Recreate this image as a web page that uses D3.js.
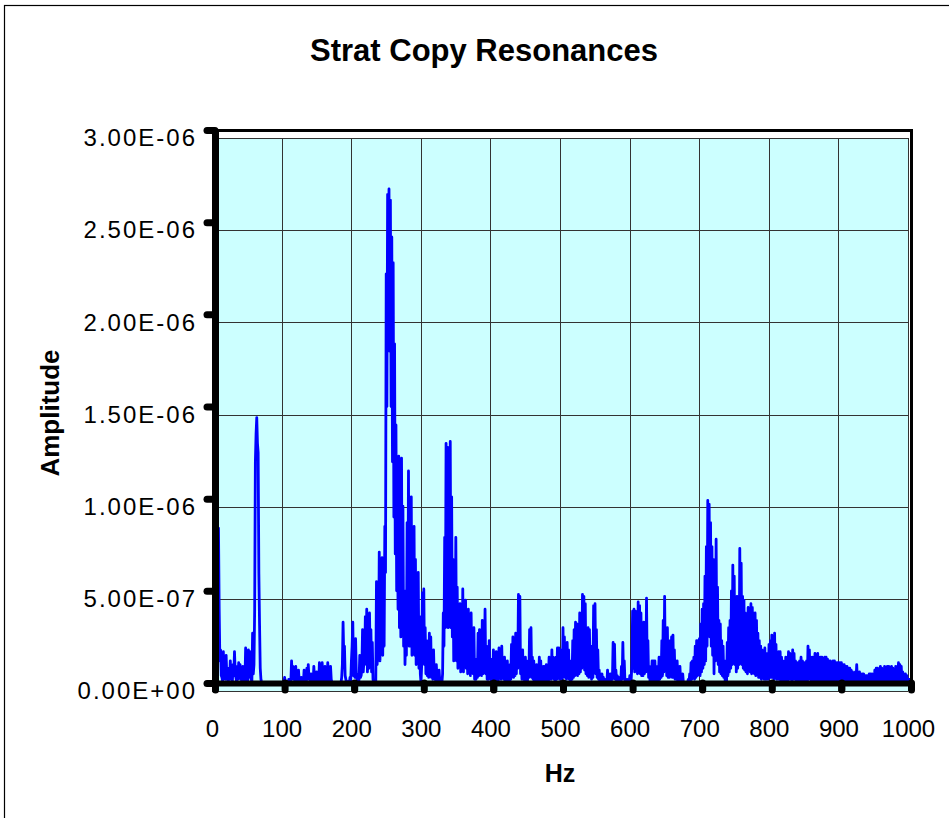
<!DOCTYPE html>
<html lang="en">
<head>
<meta charset="UTF-8">
<title>Strat Copy Resonances</title>
<script src="https://cdn.jsdelivr.net/npm/d3@7/dist/d3.min.js"></script>
<style>
    body { margin: 0; background: #fff; }
    svg text { font-family: "Liberation Sans", Arial, sans-serif; fill: #000; }
</style>
</head>
<body>
<div id="chart"></div>
<script>
// one value per Hz, amplitude in units of 1e-8
var hzStep = 1;
var amp = [
    20, 30, 10, 30, 60, 84, 40, 12, 18, 4, 3, 1, 17, 5, 6, 2, 15, 3, 2, 1,
    8, 2, 12, 3, 2, 1, 10, 4, 17, 6, 3, 1, 9, 2, 11, 3, 10, 2, 2, 0,
    9, 2, 3, 1, 19, 6, 5, 1, 18, 4, 17, 3, 2, 1, 27, 5, 10, 40, 120, 135,
    144, 130, 125, 60, 32, 8, 2, 0, 0, 0, 0, 0, 0, 0, 0, 0, 0, 0, 0, 0,
    0, 0, 0, 0, 0, 0, 0, 0, 0, 0, 0, 0, 0, 0, 0, 0, 0, 0, 0, 0,
    3, 1, 1, 0, 0, 0, 2, 0, 2, 1, 12, 3, 9, 2, 3, 1, 9, 2, 2, 0,
    7, 1, 1, 0, 3, 1, 1, 0, 7, 2, 2, 1, 8, 2, 10, 3, 3, 1, 5, 1,
    2, 0, 9, 2, 2, 1, 6, 1, 2, 0, 11, 3, 3, 1, 11, 2, 2, 1, 9, 2,
    2, 1, 11, 3, 3, 1, 9, 2, 0, 0, 0, 0, 0, 0, 0, 0, 0, 0, 0, 0,
    0, 0, 3, 10, 33, 15, 20, 4, 2, 0, 0, 0, 1, 0, 3, 1, 12, 20, 33, 4,
    8, 3, 24, 5, 2, 0, 0, 2, 15, 3, 4, 8, 29, 6, 12, 10, 36, 12, 40, 6,
    14, 8, 38, 10, 29, 6, 22, 2, 0, 0, 0, 0, 55, 10, 20, 15, 71, 12, 35, 18,
    68, 15, 61, 20, 85, 60, 222, 150, 265, 200, 268, 180, 262, 150, 242, 120, 228, 90, 184, 70,
    140, 50, 95, 40, 123, 30, 60, 25, 122, 30, 96, 20, 50, 10, 30, 15, 87, 25, 115, 20,
    72, 20, 101, 15, 45, 20, 85, 15, 67, 10, 48, 12, 60, 8, 36, 5, 0, 10, 49, 12,
    51, 10, 30, 5, 23, 4, 10, 3, 27, 5, 25, 3, 8, 2, 18, 3, 5, 1, 10, 2,
    3, 1, 7, 1, 0, 0, 0, 5, 38, 20, 79, 30, 130, 40, 128, 30, 86, 35, 131, 30,
    101, 25, 67, 12, 36, 15, 79, 12, 52, 8, 30, 10, 43, 6, 22, 8, 51, 6, 36, 10,
    45, 8, 27, 5, 40, 6, 13, 4, 38, 7, 27, 5, 30, 2, 6, 2, 13, 3, 27, 4,
    29, 5, 20, 4, 34, 5, 27, 6, 40, 5, 20, 2, 9, 2, 23, 3, 9, 1, 13, 2,
    18, 2, 6, 1, 17, 2, 2, 1, 19, 3, 15, 2, 20, 3, 12, 2, 14, 1, 9, 1,
    12, 2, 5, 1, 10, 2, 21, 4, 25, 3, 20, 4, 27, 5, 23, 8, 48, 20, 47, 5,
    15, 2, 18, 2, 12, 1, 14, 2, 9, 1, 12, 3, 29, 5, 30, 3, 14, 2, 12, 1,
    7, 1, 10, 1, 5, 1, 14, 2, 12, 1, 9, 2, 9, 1, 9, 1, 10, 2, 7, 1,
    14, 2, 12, 2, 18, 3, 14, 2, 12, 1, 14, 2, 19, 3, 19, 2, 18, 3, 14, 2,
    30, 4, 25, 3, 12, 2, 22, 3, 18, 2, 12, 1, 12, 2, 23, 3, 29, 4, 33, 5,
    32, 4, 23, 5, 38, 6, 36, 8, 48, 10, 47, 7, 43, 5, 23, 4, 30, 3, 29, 4,
    20, 2, 12, 3, 42, 6, 43, 5, 29, 3, 18, 2, 7, 1, 5, 1, 5, 0, 3, 0,
    2, 0, 2, 0, 7, 1, 3, 0, 5, 1, 5, 2, 22, 4, 21, 2, 7, 1, 4, 0,
    3, 0, 3, 1, 9, 2, 22, 3, 12, 1, 2, 0, 2, 0, 2, 0, 4, 0, 2, 10,
    39, 8, 40, 6, 39, 7, 38, 5, 44, 6, 42, 5, 38, 4, 30, 4, 33, 5, 33, 6,
    46, 8, 23, 3, 9, 1, 5, 1, 12, 2, 12, 1, 12, 2, 9, 1, 5, 1, 14, 2,
    14, 3, 23, 4, 34, 6, 47, 8, 30, 4, 30, 3, 16, 3, 23, 4, 25, 3, 26, 3,
    18, 2, 12, 2, 12, 1, 9, 1, 9, 1, 5, 1, 5, 0, 0, 0, 0, 0, 0, 0,
    2, 0, 5, 1, 11, 2, 12, 3, 14, 2, 20, 3, 23, 4, 23, 5, 24, 4, 32, 6,
    40, 8, 43, 10, 58, 12, 74, 20, 99, 30, 97, 25, 87, 20, 74, 15, 67, 5, 58, 12,
    78, 15, 52, 10, 34, 6, 32, 5, 23, 4, 20, 3, 12, 1, 4, 0, 22, 4, 30, 6,
    34, 8, 50, 10, 64, 12, 58, 10, 38, 6, 47, 8, 45, 10, 73, 14, 65, 10, 47, 8,
    45, 7, 38, 6, 34, 5, 41, 8, 40, 6, 43, 5, 41, 6, 38, 5, 38, 4, 34, 5,
    27, 3, 23, 3, 20, 2, 18, 3, 16, 2, 19, 2, 16, 2, 16, 2, 21, 3, 23, 3,
    26, 3, 23, 2, 27, 3, 21, 2, 16, 2, 17, 2, 17, 1, 14, 2, 12, 1, 11, 1,
    14, 2, 14, 1, 17, 2, 16, 2, 12, 1, 18, 2, 16, 2, 12, 1, 11, 1, 11, 1,
    12, 1, 14, 2, 12, 1, 11, 1, 11, 2, 12, 1, 20, 2, 18, 2, 12, 1, 14, 1,
    14, 2, 16, 1, 15, 2, 16, 1, 14, 1, 14, 2, 14, 1, 13, 1, 14, 1, 14, 2,
    13, 1, 12, 1, 12, 1, 11, 1, 12, 1, 12, 1, 11, 1, 11, 1, 11, 1, 11, 1,
    11, 1, 10, 1, 10, 1, 9, 1, 9, 1, 8, 1, 8, 1, 7, 1, 6, 1, 5, 0,
    6, 1, 10, 1, 5, 0, 6, 1, 5, 0, 5, 1, 5, 0, 4, 0, 4, 0, 4, 0,
    5, 1, 5, 0, 5, 1, 4, 0, 7, 1, 8, 1, 8, 1, 7, 1, 9, 1, 8, 1,
    7, 1, 9, 1, 8, 1, 9, 1, 9, 1, 8, 1, 9, 1, 8, 1, 7, 1, 9, 1,
    9, 1, 11, 2, 10, 1, 9, 1, 6, 1, 5, 0, 5, 0, 4, 0, 2, 0, 2, 0,
    1
];

var xTicks = [0, 100, 200, 300, 400, 500, 600, 700, 800, 900, 1000];
var yTicks = [0, 5e-7, 1e-6, 1.5e-6, 2e-6, 2.5e-6, 3e-6];
var yTickLabels = ["0.00E+00", "5.00E-07", "1.00E-06", "1.50E-06", "2.00E-06", "2.50E-06", "3.00E-06"];

var width = 949;
var height = 818;

var svg = d3.select("#chart")
        .append("svg")
        .attr("width", width)
        .attr("height", height);

var x = d3.scaleLinear()
        .domain([0, 1000])
        .range([215, 911]);

var y = d3.scaleLinear()
        .domain([0, 3e-6])
        .range([683, 130]);

// the cyan area, grid and labels sit a few px off the axis ticks, like the original
var shift = {x: -3, y: 8};

var points = amp.map(function (a, i) {
    return {hz: i * hzStep, v: a * 1e-8};
});

// outer chart border
svg.append("rect")
        .attr("x", 4.5)
        .attr("y", 5.5)
        .attr("width", 1000)
        .attr("height", 900)
        .attr("fill", "none")
        .attr("stroke", "#000")
        .attr("stroke-width", 1.2);

svg.append("text")
        .attr("x", 484)
        .attr("y", 61)
        .attr("text-anchor", "middle")
        .attr("font-size", 31)
        .attr("font-weight", "bold")
        .text("Strat Copy Resonances");

// plot area background
svg.append("rect")
        .attr("x", x(0) + shift.x)
        .attr("y", y(3e-6) + shift.y)
        .attr("width", x(1000) - x(0))
        .attr("height", y(0) - y(3e-6))
        .attr("fill", "#CCFFFF");

var grid = svg.append("g")
        .attr("transform", "translate(" + shift.x + "," + shift.y + ")");

grid.selectAll("line.h")
        .data(yTicks)
        .enter()
        .append("line")
        .attr("class", "h")
        .attr("x1", x(0))
        .attr("x2", x(1000))
        .attr("y1", function (d) { return Math.round(y(d)) + 0.5; })
        .attr("y2", function (d) { return Math.round(y(d)) + 0.5; })
        .attr("stroke", "#333")
        .attr("stroke-width", 1);

grid.selectAll("line.v")
        .data(xTicks)
        .enter()
        .append("line")
        .attr("class", "v")
        .attr("x1", function (d) { return Math.round(x(d)) + 0.5; })
        .attr("x2", function (d) { return Math.round(x(d)) + 0.5; })
        .attr("y1", y(3e-6))
        .attr("y2", y(0))
        .attr("stroke", "#333")
        .attr("stroke-width", 1);

var line = d3.line()
        .x(function (d) { return x(d.hz); })
        .y(function (d) { return y(d.v); });

svg.append("path")
        .datum(points)
        .attr("d", line)
        .attr("fill", "none")
        .attr("stroke", "#0000FF")
        .attr("stroke-width", 2.8)
        .attr("stroke-linejoin", "round");

// top and right edges of the plot frame
svg.append("path")
        .attr("d", "M" + x(0) + "," + (y(3e-6) + 0.5) + "H" + (x(1000) + 0.5) + "V" + y(0))
        .attr("fill", "none")
        .attr("stroke", "#000")
        .attr("stroke-width", 3);

var yAxis = d3.axisLeft(y)
        .tickValues(yTicks)
        .tickSize(8)
        .tickSizeOuter(0)
        .tickPadding(10)
        .tickFormat(function (d, i) { return yTickLabels[i]; });

var gY = svg.append("g")
        .attr("transform", "translate(" + x(0) + ",0)")
        .call(yAxis)
        .attr("font-size", 24);

gY.select(".domain").attr("stroke", "#000").attr("stroke-width", 7);
gY.selectAll(".tick line")
        .attr("stroke", "#000")
        .attr("stroke-width", 7)
        .attr("stroke-linecap", "round");
gY.selectAll(".tick text")
        .attr("x", -18)
        .attr("y", shift.y)
        .attr("letter-spacing", 2);

var xAxis = d3.axisBottom(x)
        .tickValues(xTicks)
        .tickSize(7)
        .tickSizeOuter(0)
        .tickPadding(30)
        .tickFormat(d3.format("d"));

var gX = svg.append("g")
        .attr("transform", "translate(0," + y(0) + ")")
        .call(xAxis)
        .attr("font-size", 24);

gX.select(".domain").attr("stroke", "#000").attr("stroke-width", 6);
gX.selectAll(".tick line")
        .attr("stroke", "#000")
        .attr("stroke-width", 7)
        .attr("stroke-linecap", "round");
gX.selectAll(".tick text")
        .attr("x", shift.x);

svg.append("text")
        .attr("transform", "translate(59,413) rotate(-90)")
        .attr("text-anchor", "middle")
        .attr("font-size", 26)
        .attr("font-weight", "bold")
        .text("Amplitude");

svg.append("text")
        .attr("x", 560)
        .attr("y", 782)
        .attr("text-anchor", "middle")
        .attr("font-size", 25)
        .attr("font-weight", "bold")
        .text("Hz");
</script>
</body>
</html>
